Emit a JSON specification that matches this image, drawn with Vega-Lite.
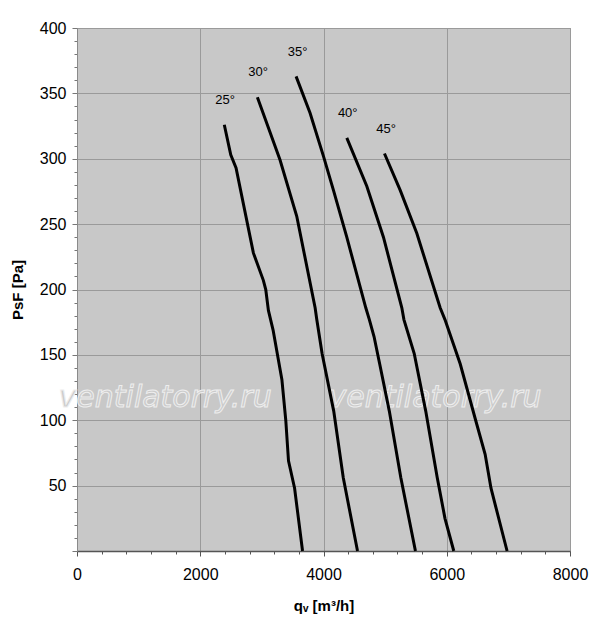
{
  "$schema": "https://vega.github.io/schema/vega-lite/v6.json",
  "description": "Fan pressure curves by blade angle.",
  "width": 493,
  "height": 523,
  "autosize": {"type": "none"},
  "padding": {"left": 77, "top": 28, "right": 30, "bottom": 84},
  "background": "white",
  "config": {
    "font": "Liberation Sans",
    "view": {"fill": "#c8c8c8", "stroke": "#8a8a8a", "strokeWidth": 1}
  },
  "datasets": {
    "curves": [
      {"angle": "25°", "q": 2390, "p": 326}, {"angle": "25°", "q": 2495, "p": 303}, {"angle": "25°", "q": 2581, "p": 293},
      {"angle": "25°", "q": 2862, "p": 228}, {"angle": "25°", "q": 3024, "p": 207}, {"angle": "25°", "q": 3063, "p": 200},
      {"angle": "25°", "q": 3106, "p": 184}, {"angle": "25°", "q": 3182, "p": 169}, {"angle": "25°", "q": 3325, "p": 131},
      {"angle": "25°", "q": 3388, "p": 100}, {"angle": "25°", "q": 3432, "p": 69}, {"angle": "25°", "q": 3531, "p": 48},
      {"angle": "25°", "q": 3660, "p": 0},
      {"angle": "30°", "q": 2927, "p": 347}, {"angle": "30°", "q": 3295, "p": 299}, {"angle": "30°", "q": 3566, "p": 256},
      {"angle": "30°", "q": 3864, "p": 186}, {"angle": "30°", "q": 3891, "p": 177}, {"angle": "30°", "q": 3977, "p": 151},
      {"angle": "30°", "q": 4166, "p": 107}, {"angle": "30°", "q": 4321, "p": 56}, {"angle": "30°", "q": 4552, "p": 0},
      {"angle": "35°", "q": 3555, "p": 363}, {"angle": "35°", "q": 3782, "p": 335}, {"angle": "35°", "q": 3999, "p": 302},
      {"angle": "35°", "q": 4161, "p": 276}, {"angle": "35°", "q": 4378, "p": 240}, {"angle": "35°", "q": 4686, "p": 186},
      {"angle": "35°", "q": 4744, "p": 177}, {"angle": "35°", "q": 4820, "p": 164}, {"angle": "35°", "q": 4912, "p": 143},
      {"angle": "35°", "q": 5068, "p": 107}, {"angle": "35°", "q": 5255, "p": 56}, {"angle": "35°", "q": 5492, "p": 0},
      {"angle": "40°", "q": 4378, "p": 316}, {"angle": "40°", "q": 4703, "p": 279}, {"angle": "40°", "q": 4973, "p": 240},
      {"angle": "40°", "q": 5271, "p": 186}, {"angle": "40°", "q": 5305, "p": 177}, {"angle": "40°", "q": 5472, "p": 151},
      {"angle": "40°", "q": 5659, "p": 107}, {"angle": "40°", "q": 5846, "p": 56}, {"angle": "40°", "q": 5971, "p": 25},
      {"angle": "40°", "q": 6114, "p": 0},
      {"angle": "45°", "q": 4989, "p": 304}, {"angle": "45°", "q": 5244, "p": 276}, {"angle": "45°", "q": 5514, "p": 243},
      {"angle": "45°", "q": 5893, "p": 186}, {"angle": "45°", "q": 5971, "p": 177}, {"angle": "45°", "q": 6219, "p": 143},
      {"angle": "45°", "q": 6469, "p": 100}, {"angle": "45°", "q": 6623, "p": 74}, {"angle": "45°", "q": 6718, "p": 48},
      {"angle": "45°", "q": 6979, "p": 0}
    ],
    "labels": [
      {"angle": "25°", "q": 2403, "p": 345},
      {"angle": "30°", "q": 2938, "p": 366},
      {"angle": "35°", "q": 3580, "p": 382},
      {"angle": "40°", "q": 4393, "p": 335},
      {"angle": "45°", "q": 5016, "p": 323}
    ],
    "watermark": [
      {"text": "ventilatorry.ru", "q": 1430, "p": 117},
      {"text": "ventilatorry.ru", "q": 5810, "p": 117}
    ]
  },
  "layer": [
    {
      "data": {"name": "watermark"},
      "mark": {"type": "text", "fontSize": 30, "fontStyle": "italic", "font": "DejaVu Sans", "fontWeight": "normal", "fill": "#cbcbcb", "stroke": "#eeeeee", "strokeWidth": 1},
      "encoding": {
        "x": {"field": "q", "type": "quantitative"},
        "y": {"field": "p", "type": "quantitative"},
        "text": {"field": "text"}
      }
    },
    {
      "data": {"name": "curves"},
      "mark": {"type": "line", "color": "black", "strokeWidth": 3},
      "encoding": {
        "x": {
          "field": "q",
          "type": "quantitative",
          "scale": {"domain": [0, 8000], "nice": false, "zero": false},
          "axis": {
            "title": "qᵥ [m³/h]",
            "titleFontSize": 15,
            "titleFontWeight": "bold",
            "titleColor": "black",
            "titlePadding": 16,
            "values": [0, 400, 800, 1200, 1600, 2000, 2400, 2800, 3200, 3600, 4000, 4400, 4800, 5200, 5600, 6000, 6400, 6800, 7200, 7600, 8000],
            "tickCount": 100,
            "labelExpr": "datum.value % 2000 == 0 ? datum.label : ''",
            "format": "d",
            "labelOverlap": false,
            "labelFontSize": 16,
            "labelColor": "black",
            "labelPadding": 10,
            "labelFlush": false,
            "domainColor": "#555555",
            "domainWidth": 1.5,
            "tickColor": "#555555",
            "tickSize": {"condition": {"test": "datum.value % 2000 == 0", "value": 5}, "value": 3},
            "gridColor": "#9a9a9a",
            "gridOpacity": {"condition": {"test": "datum.value % 2000 == 0", "value": 1}, "value": 0}
          }
        },
        "y": {
          "field": "p",
          "type": "quantitative",
          "scale": {"domain": [0, 400], "nice": false},
          "axis": {
            "title": "PsF [Pa]",
            "titleFontSize": 15,
            "titleFontWeight": "bold",
            "titleColor": "black",
            "titlePadding": 14,
            "values": [0, 10, 20, 30, 40, 50, 60, 70, 80, 90, 100, 110, 120, 130, 140, 150, 160, 170, 180, 190, 200, 210, 220, 230, 240, 250, 260, 270, 280, 290, 300, 310, 320, 330, 340, 350, 360, 370, 380, 390, 400],
            "tickCount": 100,
            "labelExpr": "datum.value % 50 == 0 && datum.value > 0 ? datum.label : ''",
            "labelOverlap": false,
            "labelFontSize": 16,
            "labelColor": "black",
            "labelPadding": 6,
            "labelFlush": false,
            "domainColor": "#8a8a8a",
            "tickColor": "#777777",
            "tickSize": {"condition": {"test": "datum.value % 50 == 0", "value": 5}, "value": 3},
            "gridColor": "#9a9a9a",
            "gridOpacity": {"condition": {"test": "datum.value % 50 == 0", "value": 1}, "value": 0}
          }
        },
        "detail": {"field": "angle"}
      }
    },
    {
      "data": {"name": "labels"},
      "mark": {"type": "text", "fontSize": 13, "color": "black"},
      "encoding": {
        "x": {"field": "q", "type": "quantitative"},
        "y": {"field": "p", "type": "quantitative"},
        "text": {"field": "angle"}
      }
    }
  ]
}
